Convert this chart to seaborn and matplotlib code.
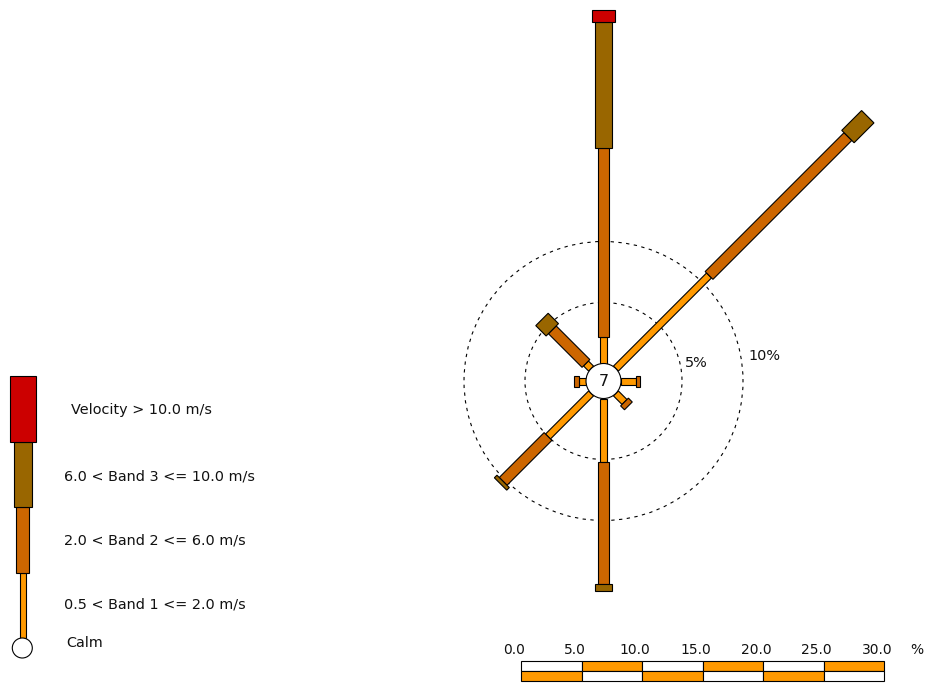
import numpy as np
import matplotlib
matplotlib.use("Agg")
import matplotlib.pyplot as plt
import matplotlib.patches as mpatches
import matplotlib.transforms as mtransforms
import seaborn as sns

# ---- wind rose data (percent of observations) ----
directions = ["N", "NE", "E", "SE", "S", "SW", "W", "NW"]
angles_deg = [0, 45, 90, 135, 180, 225, 270, 315]
band1 = [2.2, 10.8, 1.2, 1.0, 5.2, 5.0, 0.6, 0.6]
band2 = [15.5, 16.1, 0.35, 0.45, 10.0, 5.2, 0.35, 3.9]
band3 = [10.3, 2.3, 0.0, 0.0, 0.6, 0.3, 0.0, 1.2]
band4 = [1.0, 0.0, 0.0, 0.0, 0.0, 0.0, 0.0, 0.0]
calm_pct = 7

band_labels = ["0.5 < Band 1 <= 2.0 m/s", "2.0 < Band 2 <= 6.0 m/s",
               "6.0 < Band 3 <= 10.0 m/s", "Velocity > 10.0 m/s"]
ring_pcts = [5, 10]
scale_ticks = [0.0, 5.0, 10.0, 15.0, 20.0, 25.0, 30.0]

band_colors = ["#FF9900", "#CC6600", "#996600", "#CC0000"]

sns.set_theme(style="white")
plt.rcParams["font.family"] = ["DejaVu Sans"]
plt.rcParams["font.size"] = 10

W, H, DPI = 925, 684, 100
fig = plt.figure(figsize=(W / DPI, H / DPI), dpi=DPI)
fig.patch.set_facecolor("white")

# ---- rose axes: data units are percent, centred on the rose ----
PX = 12.2                 # pixels per percent
CX, CY = 603.5, 381.0     # rose centre in figure pixels (from top-left)
calm_r = 17.5 / PX        # calm circle radius in percent units
band_w = [w / PX for w in (7.0, 11.0, 17.5, 22.5)]

ax = fig.add_axes([0, 0, 1, 1])
ax.set_xlim(-CX / PX, (W - CX) / PX)
ax.set_ylim(-(H - CY) / PX, CY / PX)
ax.set_axis_off()

bands = [band1, band2, band3, band4]
for i, ang in enumerate(angles_deg):
    tr = mtransforms.Affine2D().rotate_deg(-ang) + ax.transData
    start = calm_r
    for b, vals in enumerate(bands):
        v = vals[i]
        if v <= 0:
            continue
        ax.bar(0, v, bottom=start, width=band_w[b], color=band_colors[b],
               edgecolor="black", linewidth=0.8, transform=tr, zorder=2,
               align="center")
        start += v

# dashed percentage rings
label_y = {5: 1.48, 10: 2.05}
label_gap = {5: 0.45, 10: 0.6}
for p in ring_pcts:
    r = calm_r + p
    ax.add_patch(mpatches.Circle((0, 0), r, fill=False, edgecolor="black",
                                 linewidth=0.8, linestyle=(0, (3, 4)), zorder=1))
    y = label_y[p]
    x = np.sqrt(r ** 2 - y ** 2) + label_gap[p]
    ax.text(x, y, f"{p}%", ha="left", va="center", fontsize=10.4, color="#111111")

# calm circle
ax.add_patch(mpatches.Circle((0, 0), calm_r, facecolor="white", edgecolor="black",
                             linewidth=0.8, zorder=3))
ax.text(0, 0, str(calm_pct), ha="center", va="center", fontsize=11.5,
        color="#111111", zorder=4)

# ---- legend (pixel coordinates) ----
lax = fig.add_axes([0, 0, 1, 1], facecolor="none")
lax.set_xlim(0, W)
lax.set_ylim(H, 0)
lax.set_axis_off()
seg_h = 65.5
leg_x = 22.8
leg_base = 638.0
leg_w = [5.5, 13.0, 18.5, 26.0]
for b in range(4):
    lax.bar(leg_x, seg_h, bottom=leg_base - seg_h * (b + 1), width=leg_w[b],
            color=band_colors[b], edgecolor="black", linewidth=0.8, zorder=2)
lax.add_patch(mpatches.Circle((leg_x - 0.5, 648), 10, facecolor="white",
                              edgecolor="black", linewidth=0.8, zorder=3))
text_pos = [(64.3, 605), (64.3, 541), (64.3, 476), (70.7, 410)]
for lbl, (tx, ty) in zip(band_labels, text_pos):
    lax.text(tx, ty, lbl, ha="left", va="center", fontsize=10.4, color="#111111")
lax.text(66.5, 643, "Calm", ha="left", va="center", fontsize=10.4, color="#111111")

# ---- percentage scale bar ----
sx0, sx1, sy0, sy1 = 521, 884, 661, 681
sax = fig.add_axes([sx0 / W, (H - sy1) / H, (sx1 - sx0) / W, (sy1 - sy0) / H])
sax.set_xlim(scale_ticks[0], scale_ticks[-1])
sax.set_ylim(0, 2)
sax.set_axis_off()
lefts = scale_ticks[:-1]
step = scale_ticks[1] - scale_ticks[0]
top_cols = ["white" if k % 2 == 0 else "#FF9900" for k in range(len(lefts))]
bot_cols = ["#FF9900" if k % 2 == 0 else "white" for k in range(len(lefts))]
sax.barh([1.5] * len(lefts), step, left=lefts, height=1, color=top_cols,
         edgecolor="black", linewidth=0.8, clip_on=False)
sax.barh([0.5] * len(lefts), step, left=lefts, height=1, color=bot_cols,
         edgecolor="black", linewidth=0.8, clip_on=False)
lbl_tr = mtransforms.offset_copy(sax.transData, fig=fig, x=-7, y=11, units="dots")
for t in scale_ticks:
    sax.text(t, 2, f"{t:.1f}", transform=lbl_tr, ha="center", va="center",
             fontsize=10, color="#111111")
pct_tr = mtransforms.offset_copy(sax.transData, fig=fig, x=33, y=11, units="dots")
sax.text(scale_ticks[-1], 2, "%", transform=pct_tr, ha="center", va="center",
         fontsize=10, color="#111111")

fig.savefig("out.png", dpi=DPI, facecolor="white")
